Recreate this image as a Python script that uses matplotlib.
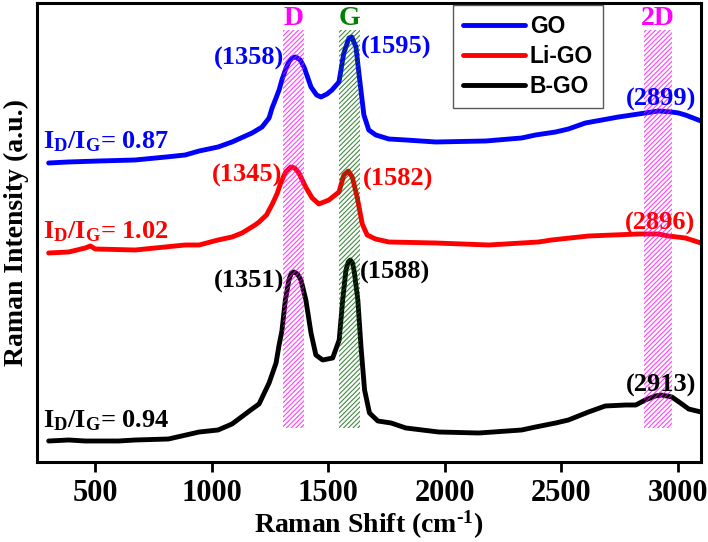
import matplotlib
matplotlib.use('Agg')
import matplotlib.pyplot as plt
from matplotlib.patches import Rectangle

plt.rcParams['font.family'] = ['Liberation Serif', 'DejaVu Serif']
plt.rcParams['font.weight'] = 'bold'
plt.rcParams['mathtext.fontset'] = 'custom'
plt.rcParams['mathtext.rm'] = 'Liberation Serif:bold'
plt.rcParams['mathtext.bf'] = 'Liberation Serif:bold'
plt.rcParams['mathtext.it'] = 'Liberation Serif:bold'
plt.rcParams['hatch.linewidth'] = 0.8

# GO spectrum (wavenumber, intensity in arbitrary units, offset as drawn)
go_x = [300, 384, 517, 671, 804, 886, 946, 1027, 1087, 1173, 1216, 1246, 1259, 1276, 1289,
        1301, 1319, 1331, 1345, 1361, 1380, 1396, 1426, 1450, 1469, 1495, 1516, 1546, 1567,
        1589, 1601, 1619, 1631, 1653, 1674, 1704, 1760, 1833, 1961, 2176, 2330, 2390, 2476,
        2531, 2604, 2746, 2861, 2917, 2973, 3003, 3033, 3100]
go_y = [299, 300, 301, 302, 305, 307, 311, 315, 320, 329, 335, 344, 354, 364, 372,
        382, 394, 400, 404, 405, 402, 395, 375, 367, 365, 368, 372, 380, 409,
        424, 425, 415, 390, 347, 332, 327, 323, 322, 320, 321, 324, 327, 330,
        333, 339, 345, 349, 351, 350, 349, 347, 341]

# Li-GO spectrum
ligo_x = [300, 386, 457, 479, 500, 671, 886, 946, 1027, 1087, 1130, 1186, 1203, 1235, 1260,
          1280, 1296, 1317, 1339, 1356, 1374, 1403, 1431, 1460, 1503, 1546, 1567, 1586, 1603,
          1624, 1646, 1667, 1703, 1760, 1961, 2189, 2403, 2459, 2617, 2831, 2917, 2960, 3033,
          3100]
ligo_y = [209, 210, 214, 216, 213, 212, 217, 217, 222, 225, 229, 237, 240, 247, 258,
          268, 279, 290, 295, 294, 289, 275, 264, 258, 262, 270, 287, 291, 285,
          265, 238, 227, 223, 220, 219, 217, 220, 222, 226, 228, 228, 226, 224,
          219]

# B-GO spectrum
bgo_x = [300, 386, 457, 600, 671, 814, 946, 1027, 1087, 1173, 1203, 1246, 1276, 1289,
         1301, 1316, 1331, 1342, 1353, 1368, 1383, 1404, 1426, 1447, 1476, 1519, 1547, 1562,
         1576, 1586, 1595, 1604, 1612, 1627, 1641, 1656, 1677, 1713, 1770, 1833, 1974, 2146,
         2330, 2390, 2476, 2531, 2617, 2689, 2777, 2820, 2861, 2904, 2930, 2975, 3018, 3047,
         3100]
bgo_y = [21, 22, 21, 21, 22, 23, 30, 32, 38, 53, 58, 79, 99, 117,
         131, 162, 182, 189, 190, 188, 182, 162, 129, 107, 102, 104, 122, 162,
         192, 200, 202, 199, 190, 162, 114, 72, 49, 41, 39, 34, 30, 29,
         32, 35, 39, 42, 50, 56, 57, 57, 62, 66, 67, 65, 58, 53,
         50]

series = [('GO', go_x, go_y, '#0000ff'),
          ('Li-GO', ligo_x, ligo_y, '#ff0000'),
          ('B-GO', bgo_x, bgo_y, '#000000')]

# peak labels: (text, x, y, ha, colour)
peak_labels = [('(1358)', 1310, 404, 'right', '#0000ff'),
               ('(1595)', 1640, 415, 'left', '#0000ff'),
               ('(2899)', 2930, 363, 'center', '#0000ff'),
               ('(1345)', 1303, 287, 'right', '#ff0000'),
               ('(1582)', 1650, 283, 'left', '#ff0000'),
               ('(2896)', 2926, 239, 'center', '#ff0000'),
               ('(1351)', 1312, 181, 'right', '#000000'),
               ('(1588)', 1637, 190, 'left', '#000000'),
               ('(2913)', 2930, 77, 'center', '#000000')]

ratio_labels = [('0.87', 314, '#0000ff'),
                ('1.02', 224, '#ff0000'),
                ('0.94', 35, '#000000')]

# hatched bands: (name, start, end, hatch colour, text colour)
bands = [('D', 1305, 1395, '#ff00ff', '#ff00ff'),
         ('G', 1545, 1635, '#006400', '#008000'),
         ('2D', 2855, 2975, '#ff00ff', '#ff00ff')]

fig = plt.figure(figsize=(7.08, 5.42), dpi=100)
ax = fig.add_axes([0.0523, 0.1476, 0.9378, 0.8469])

for name, x, y, c in series:
    ax.plot(x, y, color=c, lw=3.5, label=name, zorder=2,
            solid_capstyle='round', solid_joinstyle='round')

for name, x0, x1, hc, tc in bands:
    r = Rectangle((x0, 34), x1 - x0, 398, facecolor='none', edgecolor=hc,
                  hatch='///////', lw=0, alpha=0.75, zorder=3)
    ax.add_patch(r)
    ax.text((x0 + x1) / 2, 443, name, color=tc, fontsize=20, ha='center',
            va='center', fontweight='bold')

for t, x, y, ha, c in peak_labels:
    ax.text(x, y, t, color=c, fontsize=19, ha=ha, va='center', fontweight='bold')

for val, y, c in ratio_labels:
    ax.text(277, y, r'I$_\mathbf{D}$/I$_\mathbf{G}$= ' + val, color=c, fontsize=19,
            ha='left', va='baseline', fontweight='bold')

ax.set_xlim(250, 3100)
ax.set_ylim(0, 459)
ax.set_xticks([500, 1000, 1500, 2000, 2500, 3000])
ax.set_yticks([])
ax.tick_params(axis='x', direction='out', length=7, width=2, labelsize=22, pad=5)
for lab in ax.get_xticklabels():
    lab.set_fontweight('bold')
for s in ax.spines.values():
    s.set_linewidth(2.2)

ax.set_xlabel('Raman Shift (cm$^{\\mathbf{\\text{-}1}}$)', fontsize=20, fontweight='bold',
              labelpad=1)
ax.set_ylabel('Raman Intensity (a.u.)', fontsize=20, fontweight='bold', labelpad=6)

leg = ax.legend(loc='upper left', bbox_to_anchor=(453 / 708, 1 - 5 / 542),
                bbox_transform=fig.transFigure, borderaxespad=0, fancybox=False,
                framealpha=1, edgecolor='0.35', handlelength=2.7, handletextpad=0.2,
                labelspacing=0.3, borderpad=0.45,
                prop={'family': 'Liberation Sans', 'weight': 'bold', 'size': 16.5})
leg.get_frame().set_linewidth(1.0)
for line in leg.get_lines():
    line.set_linewidth(3.5)

fig.savefig('out.png', dpi=100)
